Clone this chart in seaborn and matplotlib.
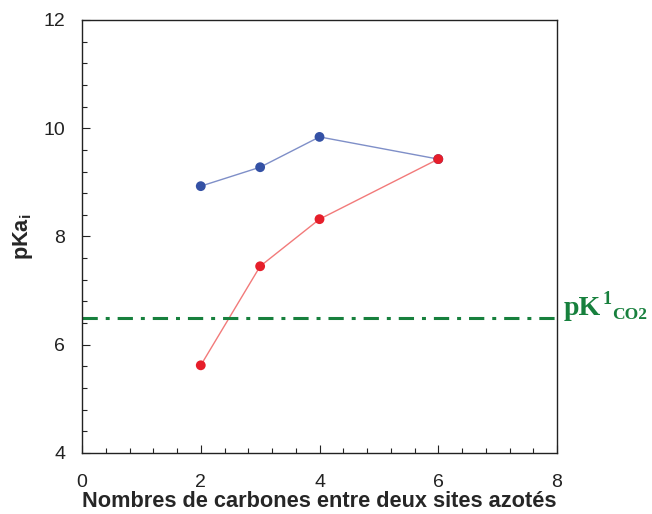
import pandas as pd
import matplotlib.pyplot as plt
import seaborn as sns
from matplotlib.ticker import MultipleLocator

# data
n_carbon = [2, 3, 4, 6]
pka_blue = [8.93, 9.28, 9.84, 9.43]
pka_red = [5.62, 7.45, 8.32, 9.43]
pk_co2 = 6.5

sns.set_style("white")
plt.rcParams['font.family'] = ['Liberation Sans', 'DejaVu Sans']

df = pd.DataFrame({
    "n": n_carbon * 2,
    "pka": pka_blue + pka_red,
    "serie": ["bleu"] * 4 + ["rouge"] * 4,
})

fig = plt.figure(figsize=(6.52, 5.14), dpi=100)
ax = fig.add_axes([0.1258, 0.1187, 0.7285, 0.8424])

line_cols = {"bleu": "#7f8fc8", "rouge": "#f27a7a"}
dot_cols = {"bleu": "#3451a5", "rouge": "#e61e2a"}
sns.lineplot(data=df, x="n", y="pka", hue="serie", palette=line_cols,
             linewidth=1, legend=False, ax=ax)
sns.scatterplot(data=df, x="n", y="pka", hue="serie", palette=dot_cols,
                s=50, edgecolor="none", legend=False, ax=ax, zorder=3)

green = "#17803d"
ax.axhline(pk_co2, color=green, linewidth=2.2, dashes=(5, 2.6, 1.3, 2.6))
# pK^1_CO2 label, built from three pieces so the sub/superscript sizes match
lab_kw = dict(xycoords=ax.get_yaxis_transform(), textcoords="offset points",
              color=green, family="Liberation Serif", fontweight="bold",
              ha="left", va="baseline", annotation_clip=False)
ax.annotate("pK", (1.0, pk_co2), xytext=(4.5, 2.2), fontsize=20, **lab_kw)
ax.annotate("1", (1.0, pk_co2), xytext=(32.5, 10), fontsize=13, **lab_kw)
ax.annotate("CO2", (1.0, pk_co2), xytext=(39.5, -0.8), fontsize=12.5, **lab_kw)

ax.set_xlim(0, 8)
ax.set_ylim(4, 12)
ax.xaxis.set_major_locator(MultipleLocator(2))
ax.xaxis.set_minor_locator(MultipleLocator(0.4))
ax.yaxis.set_major_locator(MultipleLocator(2))
ax.yaxis.set_minor_locator(MultipleLocator(0.4))
ax.tick_params(which="both", direction="in", color="#222222", width=0.8,
               bottom=True, left=True)
ax.tick_params(which="major", length=6, labelsize=14, colors="#222222")
ax.tick_params(which="minor", length=3.5)
ax.tick_params(axis="x", which="major", pad=15)
ax.tick_params(axis="y", which="major", pad=12)
for sp in ax.spines.values():
    sp.set_color("#222222")
    sp.set_linewidth(1)

ax.set_xlabel("Nombres de carbones entre deux sites azotés", fontsize=15.7,
              fontweight="bold", labelpad=0)
ax.set_ylabel("pKa$_\\mathregular{i}$", fontsize=15.7, fontweight="bold", labelpad=6)

fig.savefig("out.png", dpi=100)
